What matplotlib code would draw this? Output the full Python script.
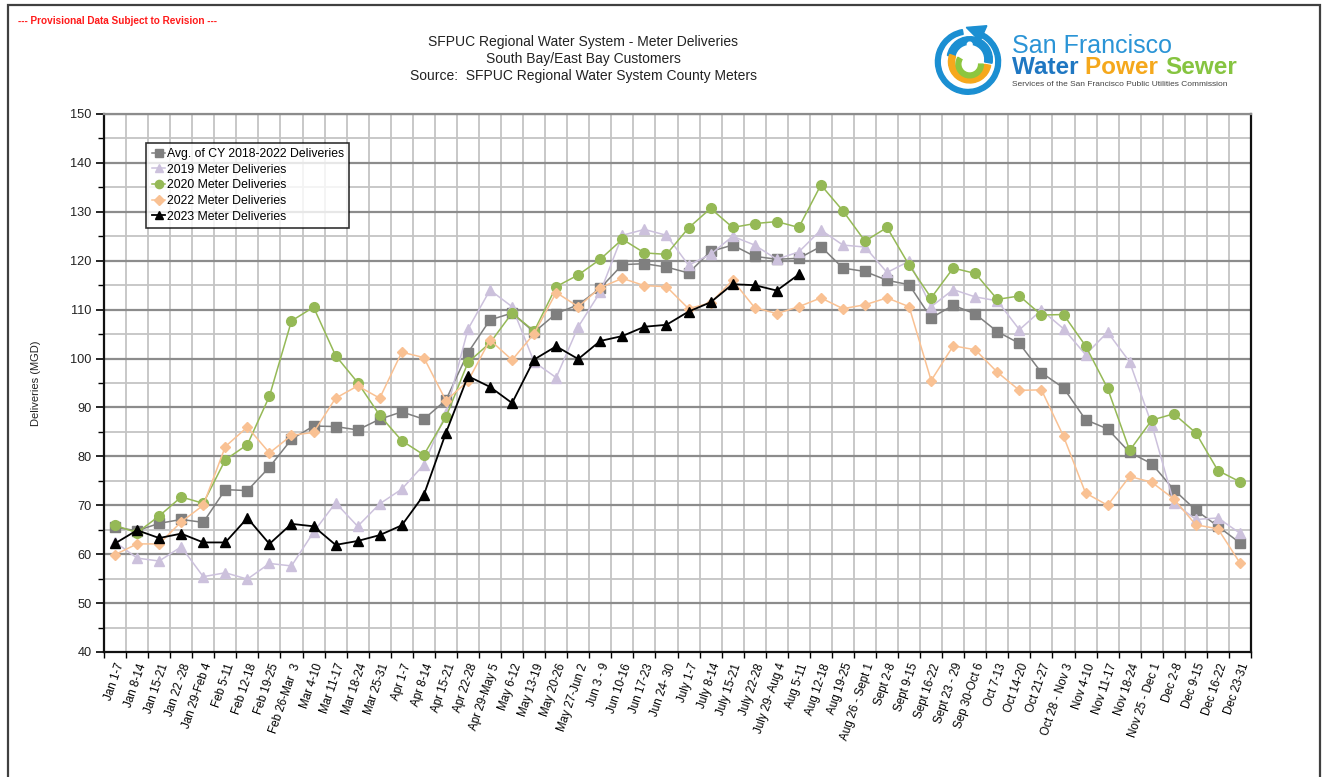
import matplotlib
matplotlib.use("Agg")
import matplotlib.pyplot as plt
from matplotlib.patches import Rectangle, Circle, Wedge, Polygon
from matplotlib.ticker import MultipleLocator, FixedLocator
import numpy as np

plt.rcParams['font.family'] = ['Liberation Sans', 'DejaVu Sans']

# Weekly periods of the calendar year
weeks = [
    "Jan 1-7", "Jan 8-14", "Jan 15-21", "Jan 22 -28", "Jan 29-Feb 4",
    "Feb 5-11", "Feb 12-18", "Feb 19-25", "Feb 26-Mar  3", "Mar 4-10",
    "Mar 11-17", "Mar 18-24", "Mar 25-31", "Apr 1-7", "Apr 8-14",
    "Apr 15-21", "Apr 22-28", "Apr 29-May 5", "May 6-12", "May 13-19",
    "May 20-26", "May 27-Jun 2", "Jun 3 - 9", "Jun 10-16", "Jun 17-23",
    "Jun 24- 30", "July 1-7", "July 8-14", "July 15-21", "July 22-28",
    "July 29- Aug 4", "Aug 5-11", "Aug 12-18", "Aug 19-25", "Aug 26 - Sept 1",
    "Sept 2-8", "Sept 9-15", "Sept 16-22", "Sept 23 - 29", "Sep 30-Oct 6",
    "Oct 7-13", "Oct 14-20", "Oct 21-27", "Oct 28 - Nov 3", "Nov 4-10",
    "Nov 11-17", "Nov 18-24", "Nov 25 - Dec 1", "Dec 2-8", "Dec 9-15",
    "Dec 16-22", "Dec 23-31",
]

# Meter deliveries, MGD
avg_2018_2022 = [
    65.5, 64.8, 66.3, 67.1, 66.5, 73.2, 73.0, 77.8, 83.5, 86.2,
    86.1, 85.4, 87.6, 89.1, 87.6, 91.5, 101.2, 107.9, 109.3, 105.4,
    109.2, 111.0, 114.4, 119.2, 119.4, 118.7, 117.5, 121.9, 123.2, 120.9,
    120.3, 120.5, 122.9, 118.5, 117.8, 116.0, 115.1, 108.3, 110.9, 109.1,
    105.5, 103.1, 97.1, 94.0, 87.5, 85.6, 80.8, 78.5, 73.2, 69.0,
    65.7, 62.3,
]
md_2019 = [
    62.5, 59.2, 58.6, 61.5, 55.4, 56.2, 54.9, 58.1, 57.6, 64.5,
    70.5, 65.7, 70.3, 73.3, 78.3, 88.8, 106.0, 114.0, 110.6, 99.3,
    96.1, 106.5, 113.6, 125.2, 126.4, 125.2, 119.1, 121.3, 125.0, 123.2,
    120.3, 121.8, 126.3, 123.2, 122.8, 117.6, 119.9, 110.6, 114.1, 112.6,
    111.8, 105.9, 109.9, 106.1, 100.8, 105.4, 99.3, 86.5, 70.5, 67.1,
    67.4, 64.3,
]
md_2020 = [
    65.9, 64.4, 67.8, 71.7, 70.4, 79.3, 82.4, 92.3, 107.7, 110.5,
    100.6, 95.1, 88.4, 83.2, 80.3, 88.0, 99.2, 103.2, 109.3, 105.6,
    114.7, 117.1, 120.3, 124.4, 121.6, 121.3, 126.7, 130.7, 126.8, 127.6,
    128.0, 126.8, 135.5, 130.2, 124.0, 126.8, 119.1, 112.4, 118.5, 117.4,
    112.1, 112.8, 108.9, 109.0, 102.6, 93.9, 81.2, 87.4, 88.7, 84.8,
    77.1, 74.8,
]
md_2022 = [
    59.9, 62.1, 62.1, 66.6, 70.0, 82.0, 86.0, 80.7, 84.3, 84.9,
    91.9, 94.4, 91.9, 101.3, 100.2, 91.4, 95.4, 103.8, 99.7, 105.1,
    113.5, 110.6, 114.5, 116.4, 114.9, 114.7, 110.2, 111.4, 116.0, 110.4,
    109.2, 110.6, 112.4, 110.2, 111.0, 112.4, 110.6, 95.5, 102.6, 101.8,
    97.2, 93.5, 93.6, 84.1, 72.5, 70.0, 75.9, 74.7, 71.3, 66.0,
    65.2, 58.2,
]
md_2023 = [
    62.2, 64.9, 63.3, 64.2, 62.4, 62.4, 67.4, 62.1, 66.2, 65.7,
    61.9, 62.7, 63.9, 65.9, 72.1, 84.8, 96.4, 94.2, 90.9, 99.8,
    102.5, 99.9, 103.6, 104.6, 106.5, 106.9, 109.6, 111.5, 115.2, 115.0,
    113.9, 117.2,
]

W, H = 1326, 777
fig = plt.figure(figsize=(W / 100, H / 100), dpi=100)
fig.patch.set_facecolor("white")

# page frame
fig.patches.append(Rectangle((8 / W, -0.05), (1320 - 8) / W, 1.05 - 5 / H,
                             transform=fig.transFigure, fill=False,
                             edgecolor="#404040", linewidth=1.6, zorder=0))

ax = fig.add_axes([104 / W, 1 - 652 / H, (1251 - 104) / W, (652 - 114) / H])

x = np.arange(len(weeks))
ax.set_xlim(-0.5, len(weeks) - 0.5)
ax.set_ylim(40, 150)

# grid: light lines at week boundaries and every 5 MGD, darker every 10 MGD
for b in np.arange(0.5, len(weeks) - 0.5, 1.0):
    ax.axvline(b, color="#c4c4c4", linewidth=1.3, zorder=0)
for v in range(45, 150, 10):
    ax.axhline(v, color="#c4c4c4", linewidth=1.3, zorder=0)
for v in range(50, 151, 10):
    ax.axhline(v, color="#8c8c8c", linewidth=1.6, zorder=0.5)

series = [
    (avg_2018_2022, "Avg. of CY 2018-2022 Deliveries", "#7f7f7f", "s", 6.5, 1.1),
    (md_2019, "2019 Meter Deliveries", "#ccc1dc", "^", 6.5, 1.1),
    (md_2020, "2020 Meter Deliveries", "#95b956", "o", 7.0, 1.1),
    (md_2022, "2022 Meter Deliveries", "#f9c193", "D", 5.5, 1.1),
    (md_2023, "2023 Meter Deliveries", "#000000", "^", 7.0, 1.3),
]
for vals, label, color, marker, ms, lw in series:
    xs = x[:len(vals)]
    ax.plot(xs, vals, color=color, marker=marker, markersize=ms,
            markerfacecolor=color, markeredgecolor=color, linewidth=lw,
            label=label, zorder=3)

ax.yaxis.set_major_locator(MultipleLocator(10))
ax.yaxis.set_minor_locator(MultipleLocator(5))
ax.tick_params(axis="y", which="major", length=6, width=1.2, direction="out",
               labelsize=9.2, pad=3, colors="#000000")
ax.tick_params(axis="y", which="minor", length=4, width=1.0, direction="out")
for lbl in ax.get_yticklabels():
    lbl.set_color("#222222")

ax.xaxis.set_major_locator(FixedLocator(x))
ax.set_xticklabels(weeks, rotation=71, ha="right", va="top",
                   rotation_mode="anchor", fontsize=8.4)
ax.xaxis.set_minor_locator(FixedLocator(np.arange(-0.5, len(weeks), 1.0)))
ax.tick_params(axis="x", which="major", length=0, pad=7)
ax.tick_params(axis="x", which="minor", length=4, width=1.0, direction="out")

for side in ["left", "bottom", "right"]:
    ax.spines[side].set_color("#111111")
    ax.spines[side].set_linewidth(1.6)
ax.spines["top"].set_color("#8c8c8c")
ax.spines["top"].set_linewidth(1.6)

ax.set_ylabel("Deliveries (MGD)", fontsize=8, labelpad=21, color="#222222")

leg = ax.legend(loc="upper left", bbox_to_anchor=(0.037, 0.947),
                fontsize=8.8, frameon=True, fancybox=False, borderpad=0.45,
                labelspacing=0.3, handlelength=1.1, handletextpad=0.1,
                borderaxespad=0.0, markerscale=0.85)
leg.get_frame().set_edgecolor("#000000")
leg.get_frame().set_linewidth(1.2)

# headings
fig.text(18 / W, 1 - 21 / H, "--- Provisional Data Subject to Revision ---",
         color="#ff1a1a", fontsize=7.2, fontweight="bold", va="center")
title_lines = [
    "SFPUC Regional Water System - Meter Deliveries",
    "South Bay/East Bay Customers",
    "Source:  SFPUC Regional Water System County Meters",
]
for i, line in enumerate(title_lines):
    fig.text(583 / W, 1 - (42 + 17 * i) / H, line, ha="center", va="center",
             fontsize=10, color="#222222")

# agency logo
lax = fig.add_axes([928 / W, 1 - 96 / H, 80 / W, 72 / H])
lax.set_xlim(-1.15, 1.15)
lax.set_ylim(-1.05, 1.05)
lax.set_aspect("equal")
lax.axis("off")
lax.add_patch(Wedge((0, -0.05), 0.95, 100, 430, width=0.14, color="#1b8fd2"))
lax.add_patch(Polygon([[-0.05, 0.95], [0.55, 1.0], [0.35, 0.55]],
                      closed=True, color="#1b8fd2"))
lax.add_patch(Wedge((0.05, 0.02), 0.66, -10, 170, width=0.22, color="#1b8fd2"))
lax.add_patch(Wedge((0.05, -0.05), 0.62, 160, 350, width=0.18, color="#f6a81c"))
lax.add_patch(Wedge((0.05, -0.12), 0.40, 150, 360, width=0.14, color="#8cc63f"))
lax.add_patch(Circle((0.05, 0.45), 0.07, color="white"))

fig.text(1012 / W, 1 - 46 / H, "San Francisco", fontsize=18, color="#2a94d6",
         va="center", ha="left")
renderer = fig.canvas.get_renderer()
xpos = 1012 / W
for word, col in [("Water ", "#1f77c2"), ("Power ", "#f5a81c"), ("Sewer", "#86c440")]:
    t = fig.text(xpos, 1 - 67 / H, word, fontsize=17.5, fontweight="bold",
                 color=col, va="center", ha="left")
    bb = t.get_window_extent(renderer=renderer)
    xpos += bb.width / W
fig.text(1012 / W, 1 - 84 / H,
         "Services of the San Francisco Public Utilities Commission",
         fontsize=6.0, color="#444444", va="center", ha="left")

fig.savefig("out.png", dpi=100, facecolor="white")
